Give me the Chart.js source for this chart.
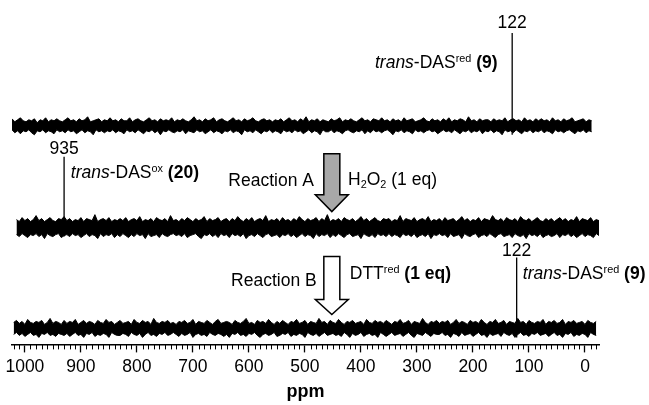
<!DOCTYPE html>
<html>
<head>
<meta charset="utf-8">
<script src="https://cdn.jsdelivr.net/npm/chart.js@4.4.1/dist/chart.umd.min.js"></script>
<style>
  html, body { margin: 0; padding: 0; background: #fff; }
  #wrap { width: 649px; height: 405px; position: relative; }
</style>
</head>
<body>
<div id="wrap"><canvas id="nmr"></canvas></div>
<script>
// chemical shift grid (ppm) shared by the three spectra
const ppmGrid = [
  1020,1015,1010,1005,1000,995,990,985,980,975,970,965,960,955,950,945,940,935,930,
  925,920,915,910,905,900,895,890,885,880,875,870,865,860,855,850,845,840,835,
  830,825,820,815,810,805,800,795,790,785,780,775,770,765,760,755,750,745,740,
  735,730,725,720,715,710,705,700,695,690,685,680,675,670,665,660,655,650,645,
  640,635,630,625,620,615,610,605,600,595,590,585,580,575,570,565,560,555,550,
  545,540,535,530,525,520,515,510,505,500,495,490,485,480,475,470,465,460,455,
  450,445,440,435,430,425,420,415,410,405,400,395,390,385,380,375,370,365,360,
  355,350,345,340,335,330,325,320,315,310,305,300,295,290,285,280,275,270,265,
  260,255,250,245,240,235,230,225,220,215,210,205,200,195,190,185,180,175,170,
  165,160,155,150,145,140,135,130,125,120,115,110,105,100,95,90,85,80,75,
  70,65,60,55,50,45,40,35,30,25,20,15,10,5,0,-5,-10,-15,-20
];

// noise envelopes (upper / lower) for each spectrum
const topUpper = [
  5,7,4,6,8,5,4,6,5,7,3,6,5,8,4,6,5,7,5,
  4,6,8,5,6,4,7,5,6,9,4,5,6,7,4,6,5,8,5,
  6,4,7,5,5,8,4,6,7,5,4,6,8,5,6,4,7,5,6,
  5,8,4,6,5,7,5,4,6,9,5,6,4,7,5,6,8,4,6,
  7,5,4,6,8,5,6,4,7,5,6,8,5,4,6,7,5,6,4,
  6,5,7,4,6,8,5,6,4,7,5,9,4,6,5,7,4,6,5,
  4,7,5,6,8,4,6,5,7,5,4,6,8,5,6,4,7,6,5,
  8,5,6,4,7,5,6,4,8,5,6,7,4,5,6,8,5,4,7,
  5,6,4,7,5,8,4,6,5,7,6,4,9,5,6,4,7,5,6,
  6,4,7,5,6,5,8,4,6,7,5,6,4,8,5,6,4,7,5,
  7,5,6,4,8,5,6,4,7,5,6,8,4,5,6,7,4,6,5
];
const topLower = [
  -6,-4,-7,-5,-8,-5,-6,-4,-7,-9,-5,-6,-4,-7,-5,-6,-8,-4,-6,
  -5,-7,-4,-6,-5,-8,-6,-4,-7,-5,-6,-9,-4,-6,-5,-7,-5,-6,-4,
  -7,-5,-6,-8,-4,-6,-5,-7,-4,-6,-8,-5,-6,-4,-7,-5,-9,-5,-6,
  -4,-6,-7,-5,-6,-4,-8,-5,-6,-7,-4,-6,-5,-8,-6,-4,-7,-5,-6,
  -8,-5,-6,-4,-7,-5,-6,-9,-4,-6,-5,-7,-4,-6,-8,-5,-6,-4,-7,
  -5,-6,-8,-4,-6,-5,-7,-4,-6,-5,-8,-6,-4,-7,-5,-6,-9,-4,-6,
  -6,-4,-7,-5,-6,-8,-5,-4,-6,-7,-5,-6,-4,-8,-5,-7,-4,-6,-5,
  -7,-5,-4,-6,-9,-5,-6,-4,-7,-5,-6,-8,-4,-6,-5,-7,-5,-4,-6,
  -5,-8,-6,-4,-6,-5,-7,-4,-6,-8,-5,-6,-4,-7,-5,-6,-4,-8,-5,
  -6,-4,-7,-5,-6,-9,-4,-6,-5,-7,-4,-6,-8,-5,-6,-4,-7,-5,-6,
  -4,-7,-5,-6,-8,-4,-6,-5,-7,-5,-4,-6,-8,-5,-6,-4,-7,-5,-6
];
const midUpper = [
  8,6,10,7,9,6,8,12,7,9,6,8,10,7,6,9,8,11,7,
  9,6,8,7,10,6,9,8,7,13,6,8,9,7,10,6,8,7,9,
  7,10,6,8,9,7,11,6,8,7,9,6,10,8,7,9,6,12,7,
  8,6,9,7,10,8,6,9,7,8,11,6,9,7,8,10,6,8,9,
  6,9,7,11,8,6,9,7,10,6,8,9,7,12,6,8,7,9,6,
  10,7,8,6,9,7,11,8,6,9,7,8,10,6,9,7,13,6,8,
  7,9,6,10,8,7,9,6,8,11,7,9,6,8,10,7,6,9,8,
  9,6,8,7,12,6,9,8,7,10,6,8,9,7,11,6,8,7,9,
  6,10,7,8,9,6,8,11,7,9,6,8,7,10,6,9,8,7,12,
  8,7,9,6,10,8,7,9,6,11,8,7,9,6,8,10,7,6,9,
  7,9,6,8,10,7,9,6,8,7,11,6,9,8,7,10,6,8,7
];
const midLower = [
  -7,-9,-6,-8,-10,-7,-8,-6,-9,-7,-11,-6,-8,-9,-7,-6,-10,-8,-7,
  -9,-6,-8,-7,-10,-8,-6,-9,-7,-8,-11,-6,-9,-7,-8,-6,-10,-7,-9,
  -6,-8,-10,-7,-9,-6,-8,-7,-11,-6,-9,-8,-7,-10,-6,-8,-9,-7,-6,
  -8,-7,-9,-6,-10,-8,-7,-6,-9,-11,-7,-8,-6,-9,-7,-10,-6,-8,-7,
  -10,-6,-8,-7,-9,-6,-11,-8,-7,-9,-6,-8,-10,-7,-6,-9,-8,-7,-10,
  -7,-8,-6,-9,-7,-10,-8,-6,-9,-7,-8,-11,-6,-9,-7,-8,-6,-10,-7,
  -9,-6,-8,-10,-7,-6,-9,-8,-7,-11,-6,-8,-9,-7,-10,-6,-8,-7,-9,
  -6,-9,-7,-8,-10,-6,-8,-7,-9,-6,-10,-8,-7,-9,-6,-11,-7,-8,-6,
  -8,-7,-10,-6,-9,-8,-7,-11,-6,-8,-9,-7,-6,-10,-8,-7,-9,-6,-8,
  -10,-7,-6,-9,-8,-7,-10,-6,-8,-9,-7,-11,-6,-8,-7,-9,-6,-10,-8,
  -7,-9,-8,-6,-10,-7,-8,-6,-9,-7,-10,-8,-6,-9,-7,-8,-10,-6,-8
];
const botUpper = [
  6,8,5,7,4,9,6,5,7,6,8,4,6,10,5,7,6,4,8,
  5,7,6,9,4,6,8,5,7,6,4,8,6,5,9,6,7,4,6,
  8,5,6,7,4,9,6,5,8,6,7,4,10,6,5,7,6,8,5,
  6,4,7,6,8,5,6,9,4,7,6,5,8,6,4,7,9,5,6,
  7,6,4,8,6,5,7,10,5,6,4,8,6,7,5,9,6,4,7,
  5,8,6,4,7,6,9,5,6,8,4,7,6,5,10,6,7,4,8,
  6,5,9,6,4,7,6,8,5,6,7,4,9,6,5,8,6,7,5,
  8,6,4,7,6,9,5,6,8,4,7,6,5,10,6,4,7,6,8,
  5,7,6,8,4,6,9,5,7,6,4,8,6,7,5,9,6,4,7,
  6,9,5,6,8,4,7,6,5,10,6,7,4,8,6,5,7,6,9,
  4,7,6,8,5,6,9,4,7,6,8,5,6,7,4,8,6,5,7
];
const botLower = [
  -6,-4,-7,-5,-8,-6,-4,-7,-6,-9,-5,-6,-4,-7,-6,-8,-5,-6,-7,
  -5,-8,-6,-4,-7,-6,-9,-5,-6,-4,-8,-6,-7,-5,-6,-9,-4,-6,-7,
  -7,-5,-6,-8,-4,-6,-7,-5,-9,-6,-4,-7,-6,-8,-5,-6,-4,-7,-6,
  -4,-6,-8,-5,-7,-6,-4,-9,-6,-5,-7,-6,-8,-4,-6,-7,-5,-6,-8,
  -6,-9,-5,-6,-4,-7,-6,-8,-5,-6,-4,-7,-9,-6,-5,-7,-6,-4,-8,
  -7,-5,-6,-4,-8,-6,-7,-5,-6,-9,-4,-6,-7,-5,-8,-6,-4,-7,-6,
  -5,-7,-6,-8,-4,-6,-9,-5,-7,-6,-4,-8,-6,-5,-7,-6,-9,-4,-6,
  -8,-6,-4,-7,-6,-5,-8,-6,-4,-7,-9,-5,-6,-7,-4,-6,-8,-5,-6,
  -6,-4,-7,-6,-9,-5,-6,-8,-4,-7,-6,-5,-8,-6,-4,-7,-6,-9,-5,
  -7,-6,-5,-8,-4,-6,-7,-5,-9,-6,-4,-7,-6,-8,-5,-6,-4,-7,-6,
  -5,-8,-6,-4,-7,-6,-9,-5,-6,-4,-8,-6,-7,-5,-6,-9,-4,-6,-7
];

// signals: position (ppm) and height
const peakPpm = [122, 935, 122];
const peakHeight = [93, 71, 71];

const majorTicks = [1000, 900, 800, 700, 600, 500, 400, 300, 200, 100, 0];

// stacking offsets and small calibration shifts of each spectrum
const baselines = [219, 117, 16];
const shifts = [8, -5, 0];

const FONT = '"Liberation Sans", Arial, sans-serif';

function traceSets(upper, lower, base, shift) {
  const line = { borderColor: '#000', borderWidth: 1, pointRadius: 0, tension: 0 };
  return [
    Object.assign({ data: ppmGrid.map((p, i) => ({ x: p + shift, y: base + upper[i] })), fill: false }, line),
    Object.assign({ data: ppmGrid.map((p, i) => ({ x: p + shift, y: base + lower[i] })), fill: '-1', backgroundColor: '#000' }, line)
  ];
}

const datasets = [
  ...traceSets(topUpper, topLower, baselines[0], shifts[0]),
  ...traceSets(midUpper, midLower, baselines[1], shifts[1]),
  ...traceSets(botUpper, botLower, baselines[2], shifts[2])
];
peakPpm.forEach((p, i) => {
  datasets.push({
    data: [{ x: p + shifts[i], y: baselines[i] - 9 }, { x: p + shifts[i], y: baselines[i] + peakHeight[i] }],
    borderColor: '#000', borderWidth: 1.3, pointRadius: 0, fill: false
  });
});

// annotations: [text, style] with I = italic, B = bold, ^ = superscript, _ = subscript
const notes = [
  { parts: [['122', '']], ppm: 130, y: 323, align: 'center' },
  { parts: [['trans', 'I'], ['-DAS', ''], ['red', '^'], [' ', ''], ['(9)', 'B']], ppm: 375, y: 283, align: 'left' },
  { parts: [['935', '']], ppm: 930, y: 197, align: 'center' },
  { parts: [['trans', 'I'], ['-DAS', ''], ['ox', '^'], [' ', ''], ['(20)', 'B']], ppm: 918, y: 173, align: 'left' },
  { parts: [['Reaction A', '']], ppm: 484, y: 165, align: 'right' },
  { parts: [['H', ''], ['2', '_'], ['O', ''], ['2', '_'], [' (1 eq)', '']], ppm: 423, y: 166, align: 'left' },
  { parts: [['122', '']], ppm: 122, y: 95, align: 'center' },
  { parts: [['Reaction B', '']], ppm: 479, y: 65, align: 'right' },
  { parts: [['DTT', ''], ['red', '^'], [' (1 eq)', 'B']], ppm: 420, y: 72, align: 'left' },
  { parts: [['trans', 'I'], ['-DAS', ''], ['red', '^'], [' ', ''], ['(9)', 'B']], ppm: 111, y: 72, align: 'left' }
];

// reaction arrows: centre ppm, shaft top, head base, tip (y units)
const arrows = [
  { ppm: 452, top: 191, base: 150, tip: 133, fill: '#a8a8a8' },
  { ppm: 452, top: 88, base: 45, tip: 30, fill: '#ffffff' }
];

function partFont(style, size) {
  const small = style.includes('^') || style.includes('_');
  const s = small ? size * 0.62 : size;
  return (style.includes('I') ? 'italic ' : '') + (style.includes('B') ? 'bold ' : '') + s + 'px ' + FONT;
}

function drawRich(ctx, parts, x, yc, align, size) {
  let w = 0;
  parts.forEach(([t, s]) => { ctx.font = partFont(s, size); w += ctx.measureText(t).width; });
  let cx = align === 'center' ? x - w / 2 : align === 'right' ? x - w : x;
  const base = yc + 0.36 * size;
  ctx.textBaseline = 'alphabetic';
  ctx.textAlign = 'left';
  parts.forEach(([t, s]) => {
    ctx.font = partFont(s, size);
    let by = base;
    if (s.includes('^')) by = base - 0.36 * size;
    if (s.includes('_')) by = base + 0.18 * size;
    ctx.fillText(t, cx, by);
    cx += ctx.measureText(t).width;
  });
}

const decorPlugin = {
  id: 'decor',
  afterDraw(chart) {
    const ctx = chart.ctx;
    const xs = chart.scales.x, ys = chart.scales.y;
    const bottom = chart.chartArea.bottom;
    ctx.save();
    // minor ticks every 10 ppm
    ctx.strokeStyle = '#000';
    ctx.lineWidth = 1;
    ctx.beginPath();
    for (let v = 1020; v >= -20; v -= 10) {
      if (v % 100 === 0) continue;
      const px = Math.round(xs.getPixelForValue(v)) + 0.5;
      ctx.moveTo(px, bottom);
      ctx.lineTo(px, bottom + 5);
    }
    ctx.stroke();
    // arrows
    arrows.forEach(a => {
      const cx = xs.getPixelForValue(a.ppm);
      const yt = ys.getPixelForValue(a.top), yb = ys.getPixelForValue(a.base), yp = ys.getPixelForValue(a.tip);
      ctx.beginPath();
      ctx.moveTo(cx - 8, yt);
      ctx.lineTo(cx + 8, yt);
      ctx.lineTo(cx + 8, yb);
      ctx.lineTo(cx + 16.5, yb);
      ctx.lineTo(cx, yp);
      ctx.lineTo(cx - 16.5, yb);
      ctx.lineTo(cx - 8, yb);
      ctx.closePath();
      ctx.fillStyle = a.fill;
      ctx.fill();
      ctx.lineWidth = 1.5;
      ctx.strokeStyle = '#000';
      ctx.stroke();
    });
    // labels
    ctx.fillStyle = '#000';
    notes.forEach(n => {
      drawRich(ctx, n.parts, xs.getPixelForValue(n.ppm), ys.getPixelForValue(n.y), n.align, 17.5);
    });
    ctx.restore();
  }
};

new Chart(document.getElementById('nmr'), {
  type: 'line',
  data: { datasets },
  options: {
    responsive: true,
    maintainAspectRatio: false,
    animation: false,
    layout: { padding: { left: 12, right: 50, top: 0, bottom: 0 } },
    plugins: { legend: { display: false }, tooltip: { enabled: false } },
    scales: {
      x: {
        type: 'linear',
        reverse: true,
        min: -25,
        max: 1023,
        border: { color: '#000', width: 1.5 },
        grid: { display: true, drawOnChartArea: false, drawTicks: true, tickLength: 8, color: '#000', tickWidth: 1.3 },
        afterBuildTicks: scale => { scale.ticks = majorTicks.map(v => ({ value: v })); },
        ticks: {
          color: '#000',
          padding: 4,
          maxRotation: 0,
          autoSkip: false,
          font: { family: FONT, size: 17.5 },
          callback: v => String(v)
        },
        title: {
          display: true,
          text: 'ppm',
          color: '#000',
          font: { family: FONT, size: 18, weight: 'bold' },
          padding: { top: 0, bottom: 2 }
        }
      },
      y: { display: false, min: 0, max: 345 }
    }
  },
  plugins: [decorPlugin]
});
</script>
</body>
</html>
